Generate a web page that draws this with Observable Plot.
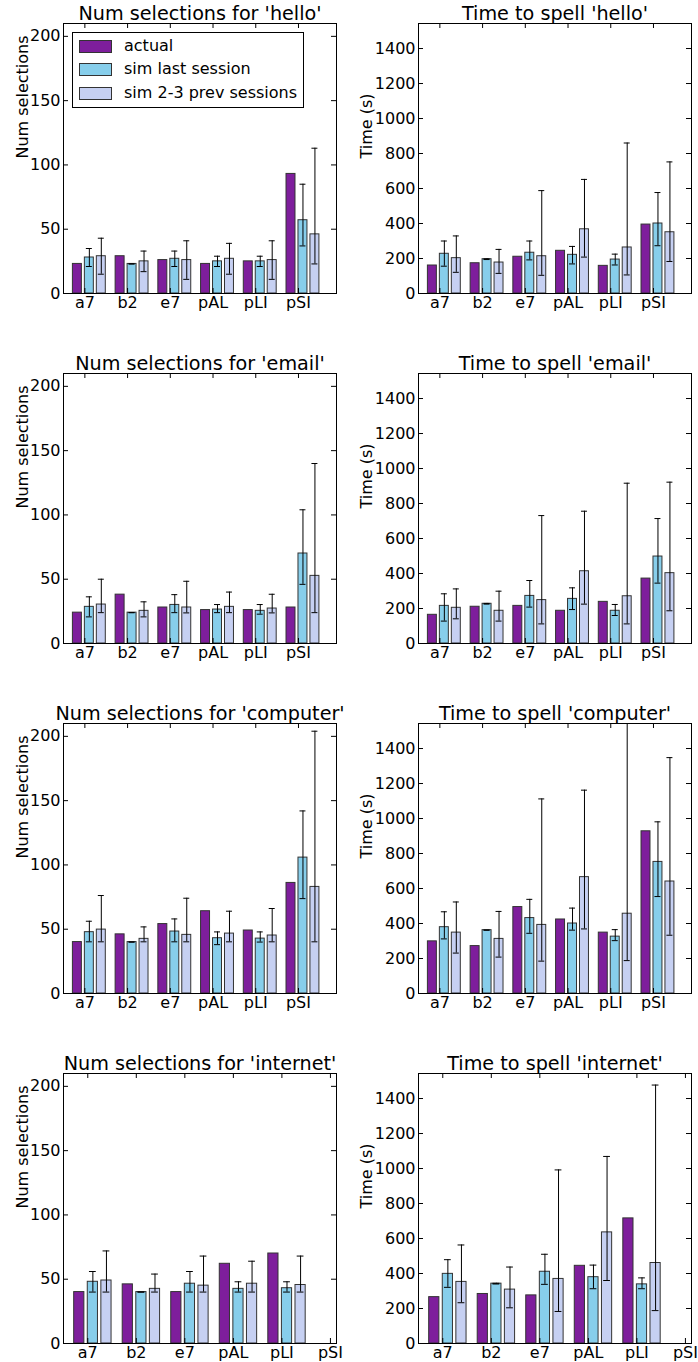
<!DOCTYPE html>
<html><head><meta charset="utf-8">
<script src="https://cdn.jsdelivr.net/npm/d3@7"></script>
<script src="https://cdn.jsdelivr.net/npm/@observablehq/plot@0.6"></script>
<style>
body{margin:0;background:#fff;}
#fig{position:relative;width:698px;height:1362px;overflow:hidden;background:#fff;font-family:"DejaVu Sans",sans-serif;}
.panel{position:absolute;width:349px;height:350px;}
.legend{position:absolute;left:72px;top:32px;width:230px;height:74px;border:1px solid #000;background:#fff;font-size:16px;color:#000;}
.legend .row{position:absolute;left:0;height:20px;line-height:20px;white-space:nowrap;}
.legend .sw{position:absolute;left:6px;top:4px;width:31px;height:11px;border:1px solid #333;}
.legend .lbl{position:absolute;left:51px;top:0;}
</style>
</head><body>
<div id="fig"></div>
<script>
// ---- data ----
const categories = ["a7", "b2", "e7", "pAL", "pLI", "pSI"];
const seriesNames = ["actual", "sim last session", "sim 2-3 prev sessions"];
const seriesColors = ["#7e1e9c", "#87ceeb", "#c6d0f2"];
const words = ["hello", "email", "computer", "internet"];
const selTicks = [0, 50, 100, 150, 200];
const timeTicks = [0, 200, 400, 600, 800, 1000, 1200, 1400];

// hello - number of selections
const helloSelActual = [23, 29, 26, 23, 25, 93];
const helloSelLast   = [28, 23, 27, 25, 25, 57];
const helloSelLastLo = [21, 23, 21, 21, 21, 37];
const helloSelLastHi = [35, 23, 33, 29, 29, 85];
const helloSelPrev   = [29, 25, 26, 27, 26, 46];
const helloSelPrevLo = [15, 17, 11, 15, 11, 23];
const helloSelPrevHi = [43, 33, 41, 39, 41, 113];
// hello - time
const helloTimeActual = [160, 173, 210, 244, 158, 394];
const helloTimeLast   = [227, 196, 233, 221, 194, 400];
const helloTimeLastLo = [156, 194, 192, 169, 163, 273];
const helloTimeLastHi = [300, 198, 300, 269, 225, 577];
const helloTimePrev   = [202, 177, 213, 367, 263, 350];
const helloTimePrevLo = [121, 115, 104, 208, 106, 183];
const helloTimePrevHi = [329, 252, 588, 652, 860, 752];

// email - number of selections
const emailSelActual = [24, 38, 28, 26, 26, 28];
const emailSelLast   = [28.5, 24, 30, 26.4, 25.4, 70];
const emailSelLastLo = [20.7, 24, 24, 24, 22.8, 46];
const emailSelLastHi = [36.3, 24, 38, 30.3, 30.3, 104];
const emailSelPrev   = [30.3, 25.4, 28, 28.5, 27.2, 52.6];
const emailSelPrevLo = [24, 20.7, 23.8, 24, 23.8, 24];
const emailSelPrevHi = [50, 32.4, 48.4, 40, 38.3, 140];
// email - time
const emailTimeActual = [164, 210, 215, 187, 238, 371];
const emailTimeLast   = [215, 227, 272, 255, 187, 497];
const emailTimeLastLo = [128, 225, 208, 194, 160, 345];
const emailTimeLastHi = [284, 229, 360, 318, 223, 714];
const emailTimePrev   = [204, 187, 248, 413, 270, 402];
const emailTimePrevLo = [141, 128, 112, 225, 112, 187];
const emailTimePrevHi = [312, 299, 731, 756, 916, 922];

// computer - number of selections
const computerSelActual = [40, 46, 54, 64, 49, 86];
const computerSelLast   = [47.7, 40, 48.2, 43, 42.7, 105.7];
const computerSelLastLo = [40.2, 40, 40.2, 38, 40, 73.8];
const computerSelLastHi = [56.2, 40, 58, 47.9, 47.9, 142];
const computerSelPrev   = [49.7, 42.5, 45.6, 46.6, 45.1, 82.9];
const computerSelPrevLo = [40.2, 40.2, 40.2, 40.2, 40.2, 40.2];
const computerSelPrevHi = [76.2, 51.8, 74.1, 64, 66.1, 204];
// computer - time
const computerTimeActual = [298, 271, 494, 423, 348, 927];
const computerTimeLast   = [379, 362, 431, 400, 325, 752];
const computerTimeLastLo = [312, 362, 344, 362, 302, 554];
const computerTimeLastHi = [467, 362, 538, 488, 365, 981];
const computerTimePrev   = [348, 312, 392, 665, 456, 640];
const computerTimePrevLo = [231, 208, 185, 369, 188, 333];
const computerTimePrevHi = [523, 469, 1112, 1162, 1600, 1348];

// internet - number of selections (no pSI data)
const internetSelActual = [40, 46, 40, 62, 70, 0];
const internetSelLast   = [48, 40, 46.5, 42.5, 43, 0];
const internetSelLastLo = [40, 40, 40, 40, 40, null];
const internetSelLastHi = [56, 40, 56, 48, 48, null];
const internetSelPrev   = [49, 42.5, 45, 46.5, 45.5, 0];
const internetSelPrevLo = [40, 40, 40, 40, 40, null];
const internetSelPrevHi = [72, 54, 68, 64, 68, null];
// internet - time
const internetTimeActual = [265, 283, 275, 444, 715, 0];
const internetTimeLast   = [398, 342, 410, 379, 338, 0];
const internetTimeLastLo = [321, 340, 338, 313, 313, null];
const internetTimeLastHi = [479, 344, 510, 448, 375, null];
const internetTimePrev   = [352, 308, 369, 635, 460, 0];
const internetTimePrevLo = [233, 204, 183, 360, 188, null];
const internetTimePrevHi = [563, 437, 992, 1069, 1477, null];

// ---- panel definitions ----
const panels = [
  {row: 0, col: 0, title: "Num selections for 'hello'", ylabel: "Num selections", yDomain: [0, 210], yTicks: selTicks, xDomain: [-0.22, 6.17],
   values: [helloSelActual, helloSelLast, helloSelPrev], errs: [[helloSelLastLo, helloSelLastHi], [helloSelPrevLo, helloSelPrevHi]], legend: true},
  {row: 0, col: 1, title: "Time to spell 'hello'", ylabel: "Time (s)", yDomain: [0, 1543], yTicks: timeTicks, xDomain: [-0.22, 6.17],
   values: [helloTimeActual, helloTimeLast, helloTimePrev], errs: [[helloTimeLastLo, helloTimeLastHi], [helloTimePrevLo, helloTimePrevHi]]},
  {row: 1, col: 0, title: "Num selections for 'email'", ylabel: "Num selections", yDomain: [0, 210], yTicks: selTicks, xDomain: [-0.22, 6.17],
   values: [emailSelActual, emailSelLast, emailSelPrev], errs: [[emailSelLastLo, emailSelLastHi], [emailSelPrevLo, emailSelPrevHi]]},
  {row: 1, col: 1, title: "Time to spell 'email'", ylabel: "Time (s)", yDomain: [0, 1543], yTicks: timeTicks, xDomain: [-0.22, 6.17],
   values: [emailTimeActual, emailTimeLast, emailTimePrev], errs: [[emailTimeLastLo, emailTimeLastHi], [emailTimePrevLo, emailTimePrevHi]]},
  {row: 2, col: 0, title: "Num selections for 'computer'", ylabel: "Num selections", yDomain: [0, 210], yTicks: selTicks, xDomain: [-0.22, 6.17],
   values: [computerSelActual, computerSelLast, computerSelPrev], errs: [[computerSelLastLo, computerSelLastHi], [computerSelPrevLo, computerSelPrevHi]]},
  {row: 2, col: 1, title: "Time to spell 'computer'", ylabel: "Time (s)", yDomain: [0, 1543], yTicks: timeTicks, xDomain: [-0.22, 6.17],
   values: [computerTimeActual, computerTimeLast, computerTimePrev], errs: [[computerTimeLastLo, computerTimeLastHi], [computerTimePrevLo, computerTimePrevHi]]},
  {row: 3, col: 0, title: "Num selections for 'internet'", ylabel: "Num selections", yDomain: [0, 210], yTicks: selTicks, xDomain: [-0.22, 5.405],
   values: [internetSelActual, internetSelLast, internetSelPrev], errs: [[internetSelLastLo, internetSelLastHi], [internetSelPrevLo, internetSelPrevHi]]},
  {row: 3, col: 1, title: "Time to spell 'internet'", ylabel: "Time (s)", yDomain: [0, 1543], yTicks: timeTicks, xDomain: [-0.22, 5.405],
   values: [internetTimeActual, internetTimeLast, internetTimePrev], errs: [[internetTimeLastLo, internetTimeLastHi], [internetTimePrevLo, internetTimePrevHi]]}
];

const BAR_STEP = 0.28, BAR_W = 0.21, CAP = 0.07;
const center = d => d.i + d.k * BAR_STEP + BAR_W / 2;

function makePanel(p) {
  const rows = [];
  p.values.forEach((vals, k) => vals.forEach((v, i) => rows.push({i, k, s: seriesNames[k], v})));
  const errs = [];
  p.errs.forEach(([lo, hi], j) => lo.forEach((l, i) => { if (l != null) errs.push({i, k: j + 1, lo: l, hi: hi[i]}); }));
  const W = 349, H = 350;
  const mL = p.col ? 69 : 63, mR = p.col ? 7 : 13, mT = 23, mB = 57;
  const fw = W - mL - mR, fh = H - mT - mB;
  const tickPos = categories.map((c, i) => i + BAR_STEP);
  const fmt = new Map(tickPos.map((t, i) => [t, categories[i]]));
  return Plot.plot({
    width: W, height: H,
    marginLeft: mL, marginRight: mR, marginTop: mT, marginBottom: mB,
    style: {fontFamily: "'DejaVu Sans', sans-serif", fontSize: "16px", color: "#000", background: "#fff", overflow: "visible"},
    x: {type: "linear", domain: p.xDomain},
    y: {domain: p.yDomain},
    color: {domain: seriesNames, range: seriesColors},
    marks: [
      Plot.rectY(rows, {x1: d => d.i + d.k * BAR_STEP, x2: d => d.i + d.k * BAR_STEP + BAR_W, y1: 0, y2: "v", fill: "s", stroke: "#333", strokeWidth: 1, clip: true}),
      Plot.ruleX(errs, {x: center, y1: "lo", y2: "hi", stroke: "#000", strokeWidth: 1, clip: true}),
      Plot.ruleY(errs, {y: "lo", x1: d => center(d) - CAP, x2: d => center(d) + CAP, stroke: "#000", strokeWidth: 1, clip: true}),
      Plot.ruleY(errs, {y: "hi", x1: d => center(d) - CAP, x2: d => center(d) + CAP, stroke: "#000", strokeWidth: 1, clip: true}),
      Plot.frame({stroke: "#000", strokeWidth: 1}),
      Plot.tickY(p.yTicks, {y: d => d, insetRight: fw - 5, stroke: "#000"}),
      Plot.tickY(p.yTicks, {y: d => d, insetLeft: fw - 5, stroke: "#000"}),
      Plot.tickX(tickPos, {x: d => d, insetBottom: fh - 5, stroke: "#000"}),
      Plot.tickX(tickPos, {x: d => d, insetTop: fh - 5, stroke: "#000"}),
      Plot.axisY({ticks: p.yTicks, tickFormat: d => String(d), tickSize: 0, tickPadding: 3, label: null, fontSize: 16}),
      Plot.axisX({ticks: tickPos, tickFormat: d => fmt.get(d), tickSize: 0, tickPadding: 3, label: null, fontSize: 16}),
      Plot.text([p.ylabel], {text: d => d, frameAnchor: "left", dx: p.col ? -52 : -41, rotate: -90, fontSize: 16}),
      Plot.text([p.title], {text: d => d, frameAnchor: "top", dy: -17, fontSize: 19.2})
    ]
  });
}

const fig = document.getElementById("fig");
for (const p of panels) {
  const div = document.createElement("div");
  div.className = "panel";
  div.style.left = (p.col * 349) + "px";
  div.style.top = (p.row * 350) + "px";
  div.appendChild(makePanel(p));
  fig.appendChild(div);
  if (p.legend) {
    const lg = document.createElement("div");
    lg.className = "legend";
    seriesNames.forEach((name, k) => {
      const r = document.createElement("div");
      r.className = "row";
      r.style.top = (3 + k * 23.3) + "px";
      r.innerHTML = `<span class="sw" style="background:${seriesColors[k]}"></span><span class="lbl"></span>`;
      r.querySelector(".lbl").textContent = name;
      lg.appendChild(r);
    });
    div.appendChild(lg);
  }
}
</script>
</body></html>
